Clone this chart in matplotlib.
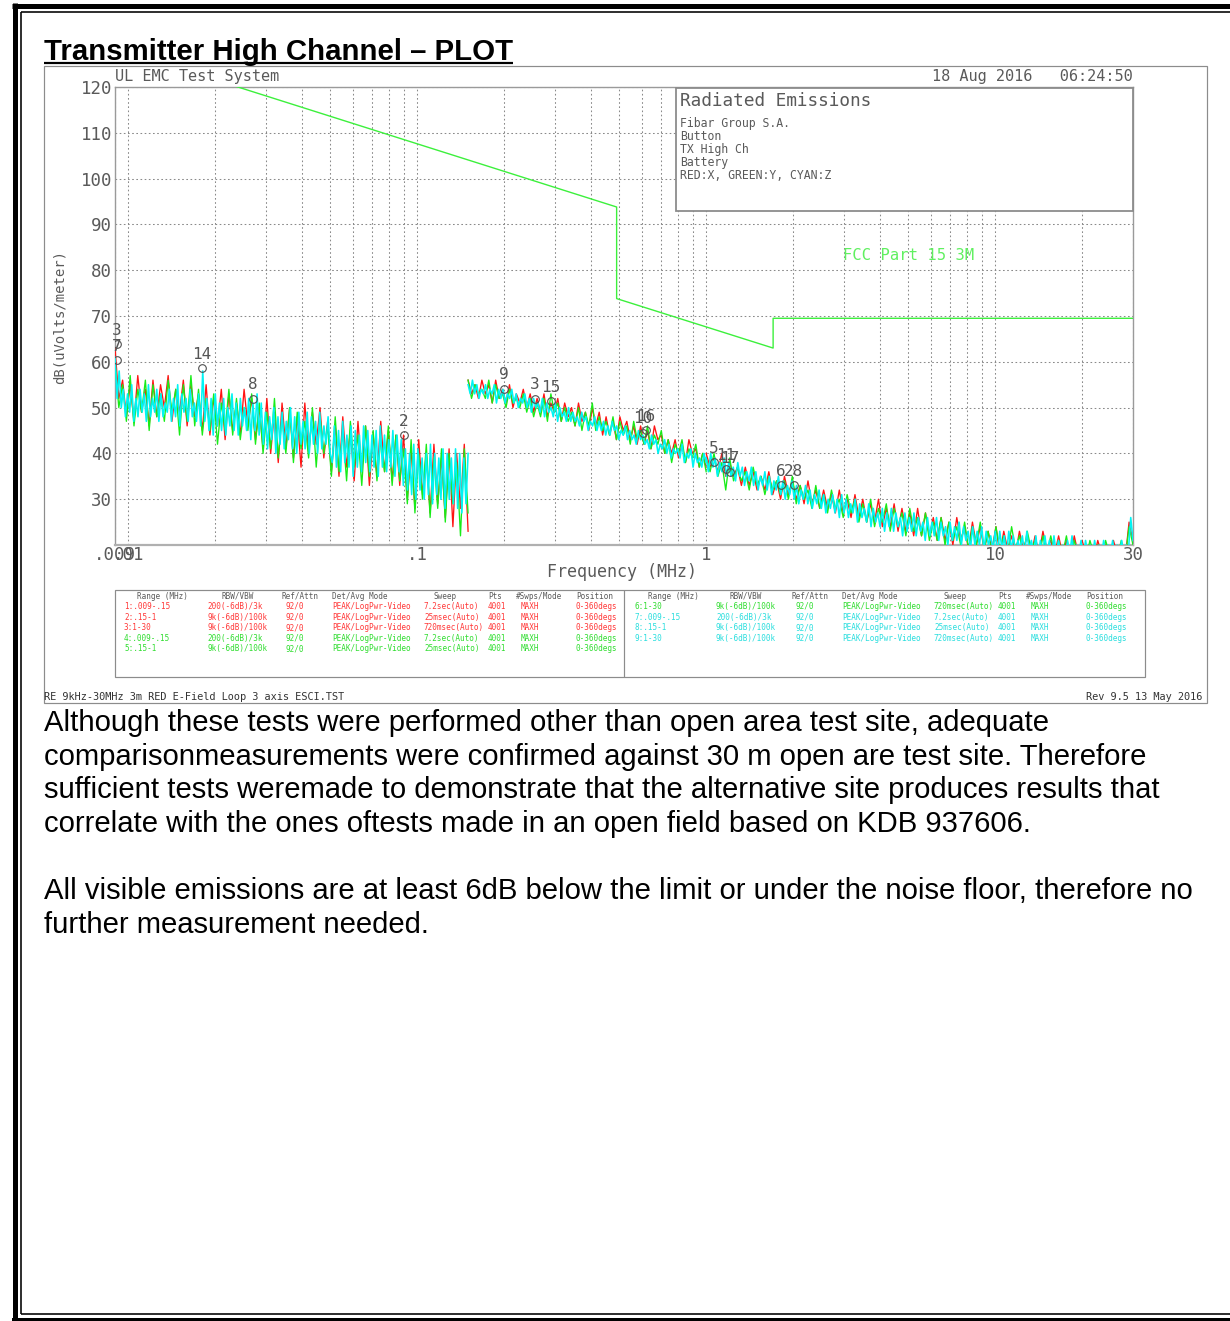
import numpy as np
import matplotlib
matplotlib.use("Agg")
import matplotlib.pyplot as plt
from matplotlib.lines import Line2D
from matplotlib.patches import Rectangle
from matplotlib.ticker import NullFormatter

# ---------------- data ----------------
# sweep segments (MHz)
seg_bounds = [(0.009, 0.15), (0.15, 1.0), (1.0, 30.0)]

# segment 1 (0.009-0.15 MHz) peak/trough readings, dBuV/m
red_seg1 = [63, 52,
            56, 48, 55, 47, 57, 49, 54, 46, 56, 48, 55, 50, 57, 47, 54, 49, 56, 46, 55, 48,
            53, 45, 55, 44, 52, 46, 54, 43, 53, 45, 51, 44, 54, 46, 52, 43,
            50, 41, 52, 40, 49, 38, 51, 41, 50, 39, 48, 37, 51, 40, 49, 42, 50, 39,
            47, 36, 46, 35, 48, 37, 45, 34, 47, 36, 46, 33, 44, 35, 47, 36, 45, 34, 44, 33,
            44, 30, 41, 28, 43, 31, 40, 27, 42, 29, 39, 26, 41, 24, 40, 28, 42, 23]
green_seg1 = [60, 50,
              55, 47, 57, 46, 54, 49, 56, 45, 55, 48, 53, 47, 56, 49, 54, 44, 55, 47, 57, 46,
              54, 44, 52, 45, 53, 42, 51, 45, 54, 44, 52, 43, 50, 45, 53, 42,
              51, 40, 49, 41, 52, 39, 48, 40, 50, 38, 49, 41, 47, 39, 50, 37, 48, 40,
              46, 35, 48, 36, 45, 34, 47, 37, 44, 33, 46, 35, 45, 34, 43, 36, 46, 33, 44, 34,
              41, 29, 43, 27, 40, 30, 42, 26, 39, 28, 41, 25, 40, 29, 38, 22, 41, 27]
cyan_seg1 = [61, 52, 58, 50,
             54, 48, 53, 49, 55, 47, 52, 48, 54, 49, 53, 47, 55, 48, 52, 49,
             54, 47, 53, 48, 51, 49, 54, 47, 52, 48, 55, 46, 53, 49, 52, 47,
             54, 48, 51, 47, 53,
             46, 58, 47, 52,
             45, 52, 44, 53, 46, 51, 45, 52, 44, 50, 46, 53, 45, 51, 44, 52,
             46, 50, 45, 52, 43, 51, 45, 53, 44, 51,
             42, 49, 41, 48, 43, 50, 40, 48, 42, 49, 41, 47, 43, 50, 41, 48,
             40, 49, 42, 47, 41, 49, 40, 48, 42, 47, 40, 49, 41, 46, 42, 48, 40,
             38, 46, 37, 45, 36, 47, 38, 44, 37, 46, 35, 45, 37, 44, 36, 46,
             38, 45, 36, 44, 37, 45, 35, 46, 37, 44, 36, 43, 37, 45, 35, 44, 36, 43,
             33, 41, 32, 40, 31, 42, 30, 41, 32, 39, 30, 40, 31, 42, 29, 40,
             31, 39, 30, 41, 28, 40, 30, 39, 29, 41, 28, 40, 27, 39, 29, 40]

# segment 2 (0.15-1 MHz)
red_seg2 = [56, 53, 55, 52, 56, 53, 55, 51, 56, 52,
            54, 51, 55, 50, 53, 51, 54, 50, 53, 49,
            52, 49, 53, 48, 51, 49, 52, 47, 51, 48,
            50, 46, 51, 47, 49, 45, 50, 46, 49, 44,
            48, 44, 47, 43, 48, 45, 47, 43, 46, 42,
            46, 42, 45, 41, 46, 43, 44, 40, 43, 40,
            43, 39, 42, 38, 43, 40, 41, 37, 40, 37]
green_seg2 = [56, 52, 55, 53, 54, 52, 56, 51, 55, 52,
              53, 50, 54, 51, 52, 50, 53, 49, 52, 48,
              51, 48, 52, 47, 53, 49, 51, 47, 50, 47,
              49, 46, 50, 45, 49, 46, 51, 45, 48, 45,
              47, 44, 48, 43, 47, 44, 46, 42, 47, 43,
              45, 42, 46, 41, 44, 42, 45, 40, 43, 38,
              42, 40, 43, 38, 41, 39, 42, 37, 40, 36]
cyan_seg2 = [55, 53, 56, 53, 55, 52, 54, 53, 55, 52, 54, 53, 55, 51, 54, 52,
             54, 51, 53, 52, 54, 51, 53, 50, 52, 51, 53, 50, 52, 49, 52, 50,
             51, 49, 52, 48, 51, 49, 50, 48, 51, 47, 50, 48, 49, 47, 50, 47,
             49, 47, 48, 46, 49, 47, 48, 45, 47, 46, 48, 45, 47, 45, 47, 44,
             46, 44, 47, 45, 46, 43, 45, 44, 46, 43, 45, 43, 44, 42, 45, 43,
             44, 42, 43, 41, 44, 42, 43, 40, 42, 41, 43, 40, 42, 39, 41, 40,
             41, 39, 42, 38, 40, 39, 41, 37, 40, 38, 39, 37, 40, 38]

# segment 3 (1-30 MHz)
red_seg3 = [40, 37, 39, 36, 40, 35, 38, 35, 37, 33,
            37, 33, 36, 32, 35, 32, 36, 31, 34, 30,
            35, 31, 34, 30, 33, 29, 34, 29, 32, 28,
            32, 28, 31, 27, 32, 27, 30, 26, 31, 26,
            30, 25, 29, 25, 30, 24, 28, 24, 29, 23,
            28, 23, 27, 22, 28, 22, 27, 22, 26, 21,
            26, 21, 25, 20, 26, 21, 24, 19, 25, 20,
            24, 19, 23, 19, 24, 18, 23, 19, 22, 18,
            23, 19, 22, 18, 22, 18, 23, 19, 21, 18,
            22, 18, 21, 17, 22, 18, 21, 18, 20, 17,
            21, 18, 20, 17, 21, 18, 20, 17, 25, 21]
green_seg3 = [39, 36, 40, 35, 38, 32, 39, 34, 37, 34,
              36, 32, 37, 33, 35, 31, 35, 32, 34, 31,
              34, 30, 35, 29, 33, 30, 32, 28, 33, 28,
              31, 27, 32, 28, 30, 26, 31, 27, 30, 25,
              29, 25, 30, 24, 28, 25, 29, 23, 28, 24,
              27, 22, 28, 23, 26, 22, 27, 21, 25, 21,
              26, 20, 25, 21, 24, 20, 25, 19, 24, 20,
              25, 19, 23, 18, 24, 19, 22, 18, 24, 19,
              22, 18, 23, 19, 21, 17, 22, 18, 22, 18,
              21, 18, 22, 17, 21, 18, 20, 17, 21, 18,
              20, 17, 21, 18, 20, 17, 21, 17, 24, 20]
cyan_seg3 = [39, 36, 40, 37, 39, 35, 38, 36, 39, 35,
             38, 35, 37, 34, 38, 35, 37, 33, 36, 34,
             37, 33, 36, 32, 35, 33, 36, 32, 35, 31,
             34, 32, 35, 31, 34, 30, 33, 31, 34, 30,
             33, 29, 32, 30, 33, 29, 32, 28, 31, 29,
             32, 28, 31, 27, 30, 28, 31, 27, 30, 26,
             31, 27, 30, 26, 29, 27, 30, 25, 29, 26,
             28, 25, 29, 24, 28, 25, 27, 24, 28, 23,
             27, 24, 28, 23, 27, 24, 26, 22, 27, 23,
             26, 23, 27, 22, 26, 23, 25, 21, 26, 22,
             25, 22, 26, 21, 25, 22, 24, 20, 25, 21,
             24, 21, 25, 20, 24, 21, 23, 19, 24, 20,
             23, 20, 24, 19, 23, 20, 22, 19, 23, 18,
             23, 19, 22, 18, 23, 19, 22, 18, 21, 19,
             22, 18, 23, 19, 21, 18, 22, 17, 21, 18,
             22, 18, 21, 17, 22, 18, 21, 18, 20, 17,
             21, 18, 22, 17, 20, 18, 21, 17, 21, 18,
             20, 17, 21, 18, 20, 17, 21, 17, 20, 18,
             21, 17, 20, 18, 21, 17, 20, 19, 26, 21]

# FCC Part 15 3M limit line breakpoints
limit_freq = [0.009, 0.49, 0.49, 1.705, 1.705, 30.0]
limit_db = [128.5, 93.8, 73.8, 63.0, 69.5, 69.5]

# markers: frequency (MHz), level (dB), label
marker_freq = [0.00914, 0.00914, 0.0180, 0.0270, 0.090, 0.200, 0.256, 0.290,
               0.604, 0.619, 1.065, 1.17, 1.21, 1.81, 2.01]
marker_db = [63.9, 60.4, 58.6, 51.9, 44.0, 54.1, 51.9, 51.4,
             44.5, 45.1, 38.1, 36.6, 35.9, 33.1, 33.1]
marker_lbl = ["3", "7", "14", "8", "2", "9", "3", "15",
              "10", "16", "5", "11", "17", "6", "28"]

# axis ticks
xtick_vals = [0.009, 0.01, 0.1, 1, 10, 30]
xtick_lbls = [".009", ".01", ".1", "1", "10", "30"]
xgrid_vals = [0.02, 0.03, 0.04, 0.05, 0.06, 0.07, 0.08, 0.09,
              0.2, 0.3, 0.4, 0.5, 0.6, 0.7, 0.8, 0.9,
              2, 3, 4, 5, 6, 7, 8, 9, 20]
ytick_vals = [20, 30, 40, 50, 60, 70, 80, 90, 100, 110, 120]
ytick_lbls = ["", "30", "40", "50", "60", "70", "80", "90", "100", "110", "120"]

# settings table
table_cols = ["Range (MHz)", "RBW/VBW", "Ref/Attn", "Det/Avg Mode", "Sweep", "Pts", "#Swps/Mode", "Position"]
table_left = [
    ["1:.009-.15", "200(-6dB)/3k", "92/0", "PEAK/LogPwr-Video", "7.2sec(Auto)", "4001", "MAXH", "0-360degs"],
    ["2:.15-1", "9k(-6dB)/100k", "92/0", "PEAK/LogPwr-Video", "25msec(Auto)", "4001", "MAXH", "0-360degs"],
    ["3:1-30", "9k(-6dB)/100k", "92/0", "PEAK/LogPwr-Video", "720msec(Auto)", "4001", "MAXH", "0-360degs"],
    ["4:.009-.15", "200(-6dB)/3k", "92/0", "PEAK/LogPwr-Video", "7.2sec(Auto)", "4001", "MAXH", "0-360degs"],
    ["5:.15-1", "9k(-6dB)/100k", "92/0", "PEAK/LogPwr-Video", "25msec(Auto)", "4001", "MAXH", "0-360degs"],
]
table_left_colors = ["red", "red", "red", "green", "green"]
table_right = [
    ["6:1-30", "9k(-6dB)/100k", "92/0", "PEAK/LogPwr-Video", "720msec(Auto)", "4001", "MAXH", "0-360degs"],
    ["7:.009-.15", "200(-6dB)/3k", "92/0", "PEAK/LogPwr-Video", "7.2sec(Auto)", "4001", "MAXH", "0-360degs"],
    ["8:.15-1", "9k(-6dB)/100k", "92/0", "PEAK/LogPwr-Video", "25msec(Auto)", "4001", "MAXH", "0-360degs"],
    ["9:1-30", "9k(-6dB)/100k", "92/0", "PEAK/LogPwr-Video", "720msec(Auto)", "4001", "MAXH", "0-360degs"],
]
table_right_colors = ["green", "cyan", "cyan", "cyan"]

info_lines = ["Fibar Group S.A.", "Button", "TX High Ch", "Battery", "RED:X, GREEN:Y, CYAN:Z"]

body_lines = [
    "Although these tests were performed other than open area test site, adequate",
    "comparisonmeasurements were confirmed against 30 m open are test site. Therefore",
    "sufficient tests weremade to demonstrate that the alternative site produces results that",
    "correlate with the ones oftests made in an open field based on KDB 937606.",
    "",
    "All visible emissions are at least 6dB below the limit or under the noise floor, therefore no",
    "further measurement needed.",
]

# ---------------- styling ----------------
W, H = 1230, 1321
MONO = "DejaVu Sans Mono"
SANS = "Liberation Sans"
GRAY = "#5a5a5a"
FRAME = "#8c8c8c"
TRACE = {"red": "#ff1414", "green": "#18ec18", "cyan": "#00f4f4"}
TXT = {"red": "#ff3838", "green": "#30dd30", "cyan": "#2adede"}
LIMIT = "#3cf03c"

plt.rcParams["font.family"] = [MONO, "DejaVu Sans"]


def fx(x):
    return x / W


def fy(y):
    return 1 - y / H


def pt(px):
    return px * 0.72


fig = plt.figure(figsize=(W / 100, H / 100), dpi=100)
fig.patch.set_facecolor("white")


def fline(x0, y0, x1, y1, lw_px, color="black", z=5):
    fig.add_artist(Line2D([fx(x0), fx(x1)], [fy(y0), fy(y1)], transform=fig.transFigure,
                          lw=pt(lw_px), color=color, zorder=z, solid_capstyle="butt"))


def frect(x0, y0, x1, y1, lw_px, color=FRAME, face="none", z=2):
    fig.add_artist(Rectangle((fx(x0), fy(y1)), fx(x1) - fx(x0), fy(y0) - fy(y1),
                             transform=fig.transFigure, lw=pt(lw_px), edgecolor=color,
                             facecolor=face, zorder=z))


def ftext(x, y, s, size, color=GRAY, ha="left", va="center", family=None, **kw):
    fig.text(fx(x), fy(y), s, fontsize=size, color=color, ha=ha, va=va,
             family=family if family else [MONO, "DejaVu Sans"], **kw)


# ---------------- page borders ----------------
fline(14.5, 3, 14.5, H, 5)
fline(12, 5.8, W, 5.8, 5)
fline(21.4, 11.5, 21.4, 1314, 1.6)
fline(21.4, 11.5, W, 11.5, 1.6)
fline(21.4, 1314, W, 1314, 1.6)
fline(12, 1320, W, 1320, 4)

# ---------------- title ----------------
ftext(44, 60, "Transmitter High Channel \u2013 PLOT", 21.2, color="black", va="baseline",
      family=[SANS, "DejaVu Sans"], fontweight="bold")
fline(44, 63, 513, 63, 2.2)

# ---------------- screenshot frame ----------------
frect(44, 66, 1207, 703, 1.2)

# ---------------- main axes ----------------
ax = fig.add_axes([fx(115), fy(545), fx(1133) - fx(115), fy(87) - fy(545)])
ax.set_xscale("log")
ax.set_xlim(0.009, 30)
ax.set_ylim(20, 120)
ax.set_xticks(xtick_vals)
ax.set_xticklabels(xtick_lbls)
ax.set_xticks(xgrid_vals, minor=True)
ax.xaxis.set_minor_formatter(NullFormatter())
ax.set_yticks(ytick_vals)
ax.set_yticklabels(ytick_lbls)
ax.tick_params(which="both", length=0)
ax.tick_params(axis="x", pad=1, labelsize=12.5, labelcolor=GRAY)
ax.tick_params(axis="y", pad=2, labelsize=12.5, labelcolor=GRAY)
grid_kw = dict(color="#8a8a8a", lw=0.75, ls=(0, (1.6, 2.4)))
ax.grid(True, which="both", axis="x", **grid_kw)
ax.grid(True, which="major", axis="y", **grid_kw)
ax.set_axisbelow(True)
for s in ax.spines.values():
    s.set_color("#9a9a9a")
    s.set_linewidth(1.0)
ax.spines["bottom"].set_linewidth(1.6)
ax.spines["bottom"].set_color("#b0b0b0")

# traces (X red, Y green, Z cyan)
traces = {
    "red": [red_seg1, red_seg2, red_seg3],
    "green": [green_seg1, green_seg2, green_seg3],
    "cyan": [cyan_seg1, cyan_seg2, cyan_seg3],
}
widths = {"red": 0.95, "green": 0.95, "cyan": 1.15}
for z, name in enumerate(["red", "green", "cyan"]):
    for (lo, hi), vals in zip(seg_bounds, traces[name]):
        f = np.geomspace(lo, hi, len(vals))
        ax.plot(f, vals, color=TRACE[name], lw=widths[name], zorder=3 + z * 0.1)

# limit line
ax.plot(limit_freq, limit_db, color=LIMIT, lw=1.0, zorder=4)

# markers
ax.plot(marker_freq, marker_db, ls="none", marker="o", ms=5.5, mfc="none",
        mec="#505050", mew=0.8, zorder=6)
for f, d, lab in zip(marker_freq, marker_db, marker_lbl):
    ax.text(f, d + 1.4, lab, fontsize=11.5, color="#555555", ha="center", va="bottom",
            zorder=7)

# info box (covers grid)
ax.add_patch(Rectangle(((676 - 115) / 1018, (545 - 211) / 458), (1133 - 676) / 1018,
                       (211 - 88) / 458, transform=ax.transAxes, facecolor="white",
                       edgecolor="#8c8c8c", lw=1.3, zorder=8, clip_on=False))

# ---------------- texts in screenshot ----------------
ftext(115, 77, "UL EMC Test System", 11)
ftext(1133, 77, "18 Aug 2016   06:24:50", 11, ha="right")
ftext(680, 101, "Radiated Emissions", 12.8)
for i, s in enumerate(info_lines):
    ftext(680, 124 + i * 12.9, s, 8.3)
ftext(843, 255, "FCC Part 15 3M", 11.2, color="#60f060")
ftext(60, 317, "dB(uVolts/meter)", 10, rotation=90, ha="center")
ftext(622, 572, "Frequency (MHz)", 12, ha="center")

# settings table
frect(115, 590, 1145, 677, 1.2)
fline(624, 590, 624, 677, 1.2, color=FRAME)
hdr_left_x = [137, 221, 281, 332, 433, 488, 516, 576]
row_left_x = [124, 207, 285, 332, 424, 488, 521, 576]
hdr_right_x = [648, 730, 791, 842, 943, 998, 1026, 1086]
row_right_x = [634, 716, 795, 842, 934, 998, 1031, 1086]
for hx, s in zip(hdr_left_x, table_cols):
    ftext(hx, 596, s, 5.5)
for hx, s in zip(hdr_right_x, table_cols):
    ftext(hx, 596, s, 5.5)
for r, (row, c) in enumerate(zip(table_left, table_left_colors)):
    for cx, s in zip(row_left_x, row):
        ftext(cx, 606.5 + r * 10.6, s, 5.5, color=TXT[c])
for r, (row, c) in enumerate(zip(table_right, table_right_colors)):
    for cx, s in zip(row_right_x, row):
        ftext(cx, 606.5 + r * 10.6, s, 5.5, color=TXT[c])

ftext(44, 697, "RE 9kHz-30MHz 3m RED E-Field Loop 3 axis ESCI.TST", 7.4, color="#333333")
ftext(1202, 697, "Rev 9.5 13 May 2016", 7.4, color="#333333", ha="right")

# ---------------- body text ----------------
y0 = 731
for i, s in enumerate(body_lines):
    if s:
        ftext(44, y0 + i * 33.6, s, 21.1, color="black", va="baseline",
              family=[SANS, "DejaVu Sans"])

fig.savefig("out.png", dpi=100, facecolor="white")
